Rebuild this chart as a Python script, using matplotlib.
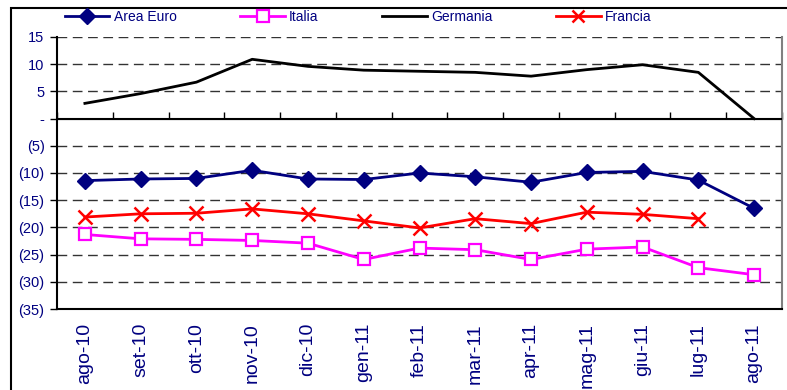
import numpy as np
import matplotlib
matplotlib.use("Agg")
import matplotlib.pyplot as plt
from matplotlib.patches import Rectangle
from matplotlib.lines import Line2D

plt.rcParams["font.family"] = ["Liberation Sans", "DejaVu Sans"]

months = ["ago-10", "set-10", "ott-10", "nov-10", "dic-10", "gen-11", "feb-11",
          "mar-11", "apr-11", "mag-11", "giu-11", "lug-11", "ago-11"]

area_euro = [-11.4, -11.1, -11.0, -9.5, -11.1, -11.2, -10.0, -10.7, -11.7, -9.9, -9.7, -11.3, -16.5]
italia = [-21.3, -22.1, -22.2, -22.4, -22.9, -25.9, -23.8, -24.1, -25.9, -24.0, -23.6, -27.4, -28.7]
germania = [2.8, 4.6, 6.7, 10.9, 9.6, 8.9, 8.7, 8.5, 7.8, 9.0, 9.9, 8.5, 0.0]
francia = [-18.1, -17.5, -17.4, -16.6, -17.5, -18.8, -20.1, -18.4, -19.3, -17.2, -17.6, -18.4, np.nan]

yticks = [15, 10, 5, 0, -5, -10, -15, -20, -25, -30, -35]
ylabels = ["15", "10", "5", "-", "(5)", "(10)", "(15)", "(20)", "(25)", "(30)", "(35)"]

NAVY = "#000080"

W, H = 787, 390
fig = plt.figure(figsize=(W / 100, H / 100), dpi=100)
ax = fig.add_axes([57 / W, 1 - 309 / H, 725 / W, 272 / H])

x = np.arange(len(months))

ax.plot(x, area_euro, color=NAVY, lw=2, marker="D", ms=8, mfc=NAVY, mec=NAVY,
        label="Area Euro", zorder=4)
ax.plot(x, italia, color="#ff00ff", lw=2, marker="s", ms=9, mfc="white", mec="#ff00ff",
        mew=1.6, label="Italia", zorder=4)
ax.plot(x, germania, color="black", lw=2, label="Germania", zorder=4)
ax.plot(x, francia, color="red", lw=2, marker="x", ms=10, mew=1.8, mec="red",
        label="Francia", zorder=4)

ax.set_xlim(-0.5, len(months) - 0.5)
ax.set_ylim(-35, 15)

# grid
for v in yticks[:-1]:
    if v == 0:
        continue
    ax.axhline(v, color="#333333", lw=1, ls=(0, (7, 4)), zorder=1)
ax.axhline(0, color="black", lw=1.5, zorder=3)

ax.set_yticks(yticks)
ax.set_yticklabels(ylabels, color=NAVY, fontsize=10.5)
ax.tick_params(axis="y", length=5, width=1, direction="out", pad=4)

ax.set_xticks(x)
ax.set_xticklabels(months, rotation=90, color=NAVY, fontsize=14)
ax.tick_params(axis="x", length=0, pad=10)

# category boundary ticks on the zero line
sec = ax.secondary_xaxis(35 / 50)
sec.set_xticks(np.arange(len(months) + 1) - 0.5)
sec.set_xticklabels([])
sec.tick_params(length=5, width=1, direction="out", color="black")
sec.spines["bottom"].set_visible(False)

ax.spines["top"].set_visible(False)
ax.spines["left"].set_linewidth(1.5)
ax.spines["bottom"].set_linewidth(1.5)
ax.spines["right"].set_color("#808080")
ax.spines["right"].set_linewidth(1.5)

handles = [
    Line2D([], [], color=NAVY, lw=2, marker="D", ms=8, mfc=NAVY, mec=NAVY),
    Line2D([], [], color="#ff00ff", lw=2, marker="s", ms=8, mfc="white", mec="#ff00ff", mew=1.6),
    Line2D([], [], color="black", lw=2),
    Line2D([], [], color="red", lw=2, marker="x", ms=9, mew=1.8),
]
leg = fig.legend(handles, ["Area Euro", "Italia", "Germania", "Francia"],
                 loc="center left", bbox_to_anchor=(65 / W, 1 - 17 / H), ncol=4,
                 frameon=False, fontsize=10, handlelength=3.2, handletextpad=0.3,
                 columnspacing=4.6, borderpad=0, borderaxespad=0)
for t in leg.get_texts():
    t.set_color(NAVY)

fig.patches.append(Rectangle((11 / W, -0.1), 1.2, 1 - 8 / H + 0.1, transform=fig.transFigure,
                             fill=False, edgecolor="black", lw=1.5, zorder=0))

fig.savefig("out.png", dpi=100)
